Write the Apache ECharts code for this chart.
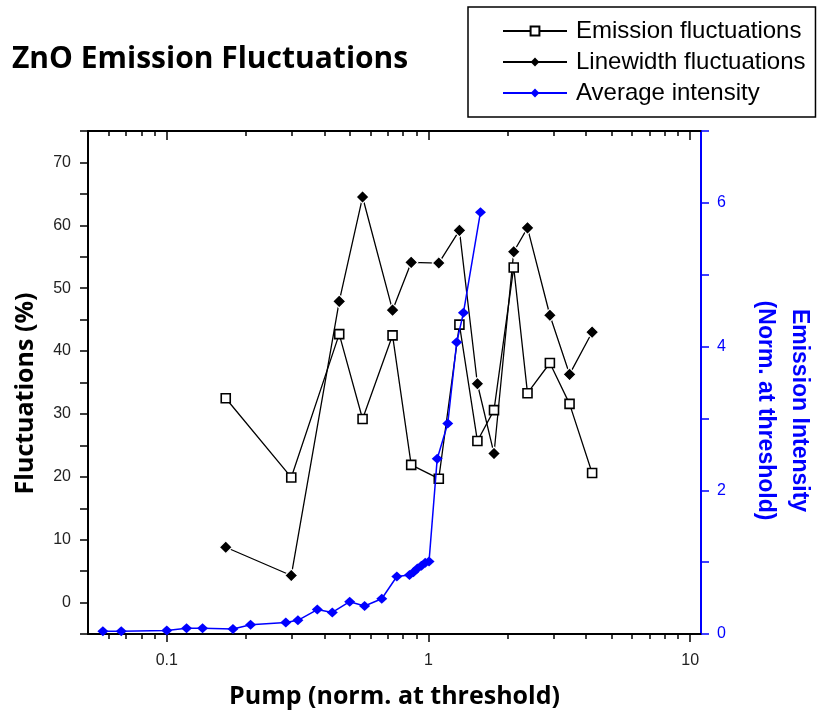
<!DOCTYPE html>
<html>
<head>
<meta charset="utf-8">
<script src="https://cdn.jsdelivr.net/npm/echarts@6/dist/echarts.min.js"></script>
<style>
  html, body { margin: 0; padding: 0; background: #fff; }
  #chart { width: 824px; height: 714px; }
</style>
</head>
<body>
<div id="chart"></div>
<script>
// Pump power, normalised to the lasing threshold
const pump = [0.168, 0.299, 0.456, 0.56, 0.729, 0.859, 1.095, 1.313, 1.538, 1.78, 2.117, 2.39, 2.91, 3.46, 4.22];

// Fluctuations (%) measured at each pump level
const emissionFluct  = [32.5, 19.9, 42.7, 29.2, 42.5, 21.9, 19.7, 44.2, 25.7, 30.6, 53.3, 33.3, 38.1, 31.6, 20.6];
const linewidthFluct = [8.8, 4.3, 47.9, 64.5, 46.5, 54.1, 54.0, 59.2, 34.8, 23.7, 55.8, 59.6, 45.7, 36.3, 43.0];

// Average emission intensity (normalised at threshold)
const pumpIntensity = [0.057, 0.067, 0.100, 0.119, 0.137, 0.179, 0.209, 0.285, 0.317, 0.376, 0.429, 0.50, 0.570,
                       0.663, 0.757, 0.846, 0.876, 0.907, 0.940, 0.972, 1.005, 1.08, 1.185, 1.282, 1.36, 1.58];
const avgIntensity  = [0.04, 0.04, 0.05, 0.08, 0.08, 0.07, 0.13, 0.16, 0.19, 0.34, 0.30, 0.45, 0.39,
                       0.49, 0.80, 0.82, 0.86, 0.91, 0.95, 0.99, 1.01, 2.44, 2.93, 4.06, 4.47, 5.87];

// Tick positions on the logarithmic pump axis
const pumpMajorTicks = [0.1, 1, 10];
const pumpMinorTicks = [0.06, 0.07, 0.08, 0.09, 0.2, 0.3, 0.4, 0.5, 0.6, 0.7, 0.8, 0.9, 2, 3, 4, 5, 6, 7, 8, 9];

const seriesNames = ['Emission fluctuations', 'Linewidth fluctuations', 'Average intensity'];

const BLUE = '#0000ff';
const LABEL_FONT = 'Liberation Sans, Arial, sans-serif';
const TITLE_FONT = 'Open Sans, Noto Sans, sans-serif';

const pairs = (xs, ys) => xs.map((x, i) => [x, ys[i]]);

// Four x axes share the plot: major + minor ticks at the bottom, mirrored at the top.
function pumpAxis(position, ticks, length, opts) {
  return Object.assign({
    type: 'log',
    logBase: 10,
    min: 0.05,
    max: 11,
    position: position,
    axisLine: { show: false, onZero: false },
    axisTick: { show: true, customValues: ticks, length: length, inside: position === 'top',
                lineStyle: { color: '#000', width: 1.5 } },
    axisLabel: { show: false },
    splitLine: { show: false },
    minorTick: { show: false },
    minorSplitLine: { show: false }
  }, opts || {});
}

const chart = echarts.init(document.getElementById('chart'), null, { renderer: 'canvas' });

chart.setOption({
  animation: false,
  backgroundColor: '#fff',
  title: {
    text: 'ZnO Emission Fluctuations',
    left: 12,
    top: 44,
    padding: 0,
    textStyle: { fontFamily: TITLE_FONT, fontWeight: 'bold', fontSize: 30, color: '#000' }
  },
  legend: {
    orient: 'vertical',
    left: 468,
    top: 7,
    padding: [12, 10, 12, 34],
    itemGap: 7,
    itemWidth: 64,
    itemHeight: 11,
    borderColor: '#000',
    borderWidth: 1.5,
    borderRadius: 0,
    data: [
      { name: seriesNames[0] },
      { name: seriesNames[1], itemStyle: { borderWidth: 0 } },
      { name: seriesNames[2] }
    ],
    textStyle: { fontFamily: LABEL_FONT, fontSize: 24, color: '#000', padding: [0, 0, 0, 4] }
  },
  grid: { left: 88, right: 122, top: 131, bottom: 80, containLabel: false },
  xAxis: [
    pumpAxis('bottom', pumpMajorTicks, 8, {
      axisLine: { show: true, onZero: false, lineStyle: { color: '#000', width: 2 } },
      axisLabel: {
        show: true, customValues: pumpMajorTicks, margin: 19,
        fontFamily: LABEL_FONT, fontSize: 16, color: '#222',
        formatter: v => String(v)
      },
      name: 'Pump (norm. at threshold)',
      nameLocation: 'middle',
      nameGap: 50,
      nameTextStyle: { fontFamily: TITLE_FONT, fontWeight: 'bold', fontSize: 25, color: '#000' }
    }),
    pumpAxis('bottom', pumpMinorTicks, 5),
    pumpAxis('top', pumpMajorTicks, 9, {
      axisLine: { show: true, onZero: false, lineStyle: { color: '#000', width: 2 } }
    }),
    pumpAxis('top', pumpMinorTicks, 5)
  ],
  yAxis: [
    {
      type: 'value',
      min: -5,
      max: 75,
      interval: 5,
      position: 'left',
      axisLine: { show: true, onZero: false, lineStyle: { color: '#000', width: 2 } },
      axisTick: { show: true, length: 8, lineStyle: { color: '#000', width: 1.5 } },
      axisLabel: {
        margin: 17, fontFamily: LABEL_FONT, fontSize: 16, color: '#222',
        formatter: v => (v % 10 === 0 ? String(v) : '')
      },
      splitLine: { show: false },
      name: 'Fluctuations (%)',
      nameLocation: 'middle',
      nameGap: 50,
      nameTextStyle: { fontFamily: TITLE_FONT, fontWeight: 'bold', fontSize: 25, color: '#000',
                       padding: [0, 22, 0, 0] }
    },
    {
      type: 'value',
      min: 0,
      max: 7,
      interval: 1,
      position: 'right',
      axisLine: { show: true, onZero: false, lineStyle: { color: BLUE, width: 2 } },
      axisTick: { show: true, length: 8, lineStyle: { color: BLUE, width: 1.5 } },
      axisLabel: {
        margin: 16, fontFamily: LABEL_FONT, fontSize: 16, color: BLUE,
        formatter: v => (v % 2 === 0 ? String(v) : '')
      },
      splitLine: { show: false },
      name: 'Emission Intensity\n(Norm. at threshold)',
      nameLocation: 'middle',
      nameRotate: -90,
      nameGap: 47,
      nameTextStyle: { fontFamily: LABEL_FONT, fontWeight: 'bold', fontSize: 23, color: BLUE,
                       lineHeight: 34, align: 'center', padding: [0, 0, 0, 56] }
    }
  ],
  series: [
    {
      name: seriesNames[0],
      type: 'line',
      xAxisIndex: 0,
      yAxisIndex: 0,
      data: pairs(pump, emissionFluct),
      symbol: 'rect',
      symbolSize: 9,
      showAllSymbol: true,
      lineStyle: { color: '#000', width: 1.3 },
      itemStyle: { color: '#fff', borderColor: '#000', borderWidth: 1.6 },
      z: 3
    },
    {
      name: seriesNames[1],
      type: 'line',
      xAxisIndex: 0,
      yAxisIndex: 0,
      data: pairs(pump, linewidthFluct),
      symbol: 'diamond',
      symbolSize: [13, 13],
      showAllSymbol: true,
      lineStyle: { color: '#000', width: 1.3 },
      itemStyle: { color: '#000', borderColor: '#fff', borderWidth: 1.2 },
      z: 3
    },
    {
      name: seriesNames[2],
      type: 'line',
      xAxisIndex: 0,
      yAxisIndex: 1,
      data: pairs(pumpIntensity, avgIntensity),
      symbol: 'diamond',
      symbolSize: [11, 10],
      showAllSymbol: true,
      lineStyle: { color: BLUE, width: 1.5 },
      itemStyle: { color: BLUE },
      z: 4
    }
  ]
});
</script>
</body>
</html>
